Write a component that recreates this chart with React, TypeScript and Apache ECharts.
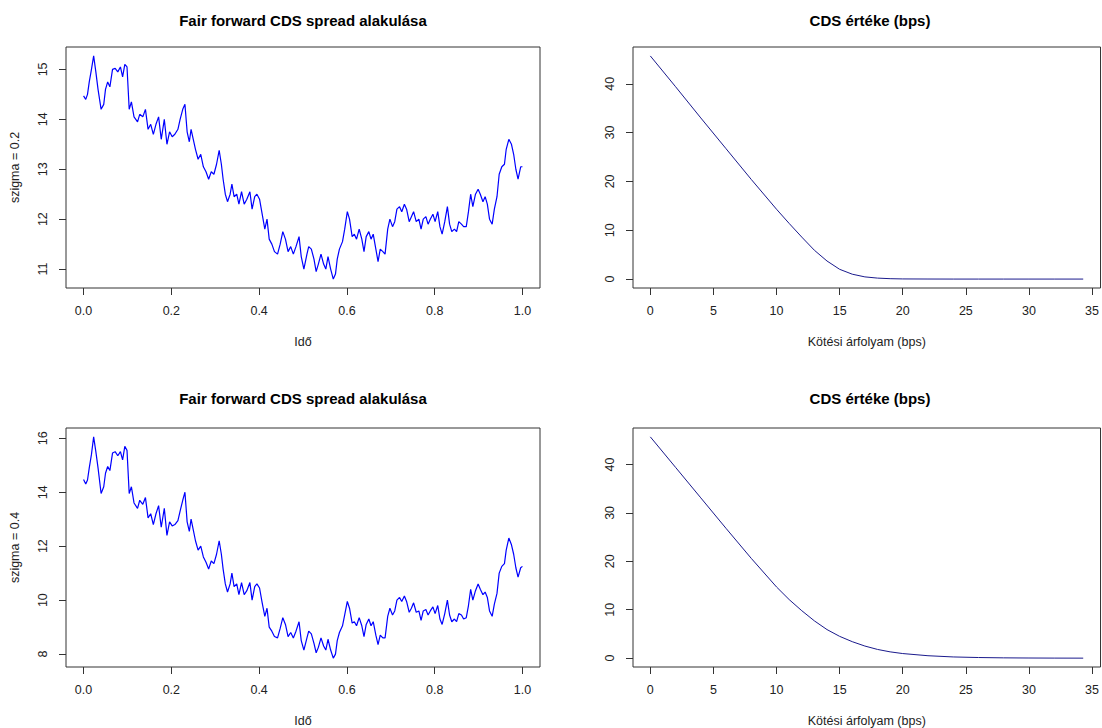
import React, { useEffect, useRef } from "react";
import * as echarts from "echarts";

// Time grid shared by both simulated paths
const TIME = [
  0, 0.005, 0.009, 0.013, 0.018, 0.023, 0.028, 0.033, 0.040, 0.046,
  0.050, 0.055, 0.060, 0.066, 0.072, 0.078, 0.084, 0.089, 0.094, 0.099,
  0.104, 0.109, 0.115, 0.123, 0.128, 0.135, 0.141, 0.147, 0.153, 0.159,
  0.165, 0.171, 0.177, 0.184, 0.190, 0.196, 0.202, 0.208, 0.215, 0.220,
  0.226, 0.231, 0.236, 0.241, 0.245, 0.250, 0.255, 0.261, 0.267, 0.273,
  0.279, 0.285, 0.291, 0.297, 0.303, 0.309, 0.314, 0.318, 0.323, 0.328,
  0.334, 0.338, 0.343, 0.349, 0.354, 0.360, 0.366, 0.372, 0.379, 0.384,
  0.390, 0.395, 0.401, 0.407, 0.413, 0.418, 0.423, 0.429, 0.435, 0.442,
  0.448, 0.454, 0.460, 0.466, 0.472, 0.478, 0.484, 0.491, 0.496, 0.502,
  0.509, 0.513, 0.519, 0.525, 0.530, 0.535, 0.541, 0.547, 0.552, 0.557,
  0.563, 0.569, 0.574, 0.578, 0.583, 0.590, 0.595, 0.601, 0.606, 0.612,
  0.617, 0.622, 0.628, 0.634, 0.639, 0.644, 0.650, 0.655, 0.660, 0.666,
  0.671, 0.676, 0.682, 0.687, 0.693, 0.698, 0.704, 0.709, 0.714, 0.720,
  0.725, 0.731, 0.736, 0.742, 0.747, 0.752, 0.758, 0.764, 0.769, 0.774,
  0.780, 0.785, 0.790, 0.796, 0.801, 0.807, 0.812, 0.817, 0.823, 0.829,
  0.834, 0.839, 0.845, 0.850, 0.855, 0.861, 0.866, 0.872, 0.877, 0.882,
  0.887, 0.893, 0.899, 0.904, 0.910, 0.915, 0.920, 0.925, 0.931, 0.936,
  0.942, 0.947, 0.953, 0.959, 0.963, 0.969, 0.975, 0.980, 0.985, 0.990,
  0.996, 1.0,
];

// Fair forward CDS spread, sigma = 0.2
const SPREAD_02 = [
  14.47, 14.40, 14.50, 14.75, 15.00, 15.27, 14.95, 14.60, 14.20, 14.30,
  14.60, 14.75, 14.65, 15.00, 15.02, 14.95, 15.05, 14.85, 15.10, 15.05,
  14.20, 14.35, 14.05, 13.95, 14.10, 14.05, 14.20, 13.80, 13.90, 13.70,
  13.90, 14.05, 13.60, 14.00, 13.50, 13.75, 13.65, 13.70, 13.80, 14.00,
  14.20, 14.30, 13.75, 13.55, 13.80, 13.60, 13.40, 13.20, 13.30, 13.05,
  12.95, 12.80, 12.95, 12.90, 13.10, 13.38, 13.10, 12.80, 12.50, 12.35,
  12.50, 12.70, 12.45, 12.50, 12.30, 12.55, 12.30, 12.40, 12.55, 12.20,
  12.45, 12.50, 12.40, 12.10, 11.80, 12.00, 11.60, 11.50, 11.35, 11.30,
  11.50, 11.75, 11.60, 11.35, 11.45, 11.30, 11.45, 11.65, 11.25, 11.00,
  11.30, 11.45, 11.40, 11.20, 10.95, 11.10, 11.30, 11.10, 11.00, 11.25,
  11.00, 10.80, 10.90, 11.20, 11.40, 11.55, 11.80, 12.15, 12.00, 11.65,
  11.70, 11.60, 11.80, 11.60, 11.35, 11.65, 11.75, 11.60, 11.70, 11.40,
  11.15, 11.40, 11.35, 11.30, 11.80, 12.00, 11.85, 11.95, 12.20, 12.25,
  12.15, 12.30, 12.20, 11.95, 12.05, 12.15, 11.95, 12.00, 11.80, 12.00,
  12.05, 11.90, 12.00, 12.10, 11.95, 12.15, 11.85, 11.70, 11.95, 12.25,
  11.90, 11.75, 11.80, 11.75, 11.95, 11.90, 11.85, 11.85, 12.15, 12.50,
  12.25, 12.50, 12.60, 12.50, 12.35, 12.45, 12.30, 12.00, 11.90, 12.20,
  12.45, 12.90, 13.05, 13.10, 13.40, 13.60, 13.50, 13.30, 13.00, 12.80,
  13.05, 13.05,
];

// Fair forward CDS spread, sigma = 0.4
const SPREAD_04 = [
  14.47, 14.30, 14.45, 14.90, 15.40, 16.05, 15.50, 14.90, 13.95, 14.20,
  14.70, 14.95, 14.80, 15.45, 15.50, 15.35, 15.50, 15.20, 15.70, 15.55,
  13.95, 14.20, 13.60, 13.40, 13.70, 13.55, 13.80, 13.05, 13.20, 12.80,
  13.20, 13.50, 12.70, 13.40, 12.40, 12.90, 12.75, 12.80, 12.95, 13.30,
  13.70, 14.00, 12.90, 12.55, 13.00, 12.60, 12.20, 11.85, 12.00, 11.60,
  11.40, 11.15, 11.45, 11.35, 11.70, 12.20, 11.70, 11.15, 10.60, 10.30,
  10.60, 11.00, 10.50, 10.60, 10.20, 10.65, 10.20, 10.35, 10.65, 10.00,
  10.50, 10.60, 10.45, 9.90, 9.40, 9.70, 9.00, 8.85, 8.65, 8.60,
  8.95, 9.35, 9.10, 8.65, 8.80, 8.60, 8.85, 9.20, 8.50, 8.15,
  8.60, 8.85, 8.75, 8.40, 8.05, 8.25, 8.60, 8.30, 8.15, 8.55,
  8.15, 7.85, 8.00, 8.50, 8.80, 9.05, 9.45, 9.95, 9.70, 9.15,
  9.20, 9.05, 9.35, 9.05, 8.65, 9.10, 9.30, 9.05, 9.20, 8.70,
  8.35, 8.70, 8.60, 8.60, 9.40, 9.70, 9.45, 9.60, 10.00, 10.10,
  9.95, 10.15, 9.95, 9.55, 9.70, 9.90, 9.55, 9.60, 9.25, 9.60,
  9.65, 9.45, 9.60, 9.75, 9.50, 9.80, 9.30, 9.10, 9.50, 10.00,
  9.45, 9.20, 9.30, 9.20, 9.50, 9.45, 9.30, 9.35, 9.80, 10.40,
  10.00, 10.35, 10.60, 10.40, 10.20, 10.30, 10.10, 9.60, 9.40, 9.85,
  10.25, 11.00, 11.25, 11.35, 11.85, 12.30, 12.05, 11.70, 11.20, 10.85,
  11.20, 11.25,
];

// Strike (bps) and CDS option value (bps)
const STRIKE = [0, 2, 4, 6, 8, 10, 11, 12, 13, 14, 15, 16, 17, 18, 19, 20, 22, 24, 26, 28, 30, 32, 34.3];
const CDS_VALUE_02 = [45.7, 39.4, 33.0, 26.7, 20.4, 14.3, 11.4, 8.6, 5.9, 3.7, 2.0, 1.0, 0.45, 0.2, 0.08, 0.03, 0.01, 0, 0, 0, 0, 0, 0];
const CDS_VALUE_04 = [45.7, 39.4, 33.1, 26.8, 20.6, 14.7, 12.1, 9.8, 7.7, 5.9, 4.5, 3.4, 2.5, 1.8, 1.3, 0.95, 0.5, 0.25, 0.13, 0.06, 0.03, 0.01, 0];

// Tick labels
const TIME_TICKS = [0, 0.2, 0.4, 0.6, 0.8, 1.0];
const STRIKE_TICKS = [0, 5, 10, 15, 20, 25, 30, 35];
const SPREAD_02_TICKS = [11, 12, 13, 14, 15];
const SPREAD_04_TICKS = [8, 10, 12, 14, 16];
const CDS_TICKS = [0, 10, 20, 30, 40];

const TITLE_LEFT = "Fair forward CDS spread alakulása";
const TITLE_RIGHT = "CDS értéke (bps)";
const XLAB_LEFT = "Idő";
const XLAB_RIGHT = "Kötési árfolyam (bps)";
const YLAB_TOP = "szigma = 0.2";
const YLAB_BOTTOM = "szigma = 0.4";

const FONT = "'Liberation Sans', Arial, sans-serif";

function rRange(arr: number[]): [number, number] {
  const mn = Math.min(...arr);
  const mx = Math.max(...arr);
  const p = (mx - mn) * 0.04;
  return [mn - p, mx + p];
}

export default function App() {
  const ref = useRef<HTMLDivElement>(null);

  useEffect(() => {
    if (!ref.current) return;
    const chart = echarts.init(ref.current, undefined, { renderer: "svg" });

    const grids = [
      { left: 66, top: 47, width: 474, height: 241 },
      { left: 633, top: 47, width: 474, height: 241 },
      { left: 66, top: 428, width: 474, height: 239 },
      { left: 633, top: 428, width: 474, height: 239 },
    ].map((g) => ({
      ...g,
      show: true,
      borderColor: "#333",
      borderWidth: 1,
      backgroundColor: "transparent",
      containLabel: false,
    }));

    const tickStyle = { show: true, length: 7, lineStyle: { color: "#333", width: 1 } };
    const labelStyle = { fontSize: 12.5, color: "#222", fontFamily: FONT };
    const nameStyle = { fontSize: 12.5, color: "#222", fontFamily: FONT };

    const mkX = (gi: number, range: [number, number], ticks: number[], name: string, dec: number) => ({
      type: "value",
      gridIndex: gi,
      position: "bottom",
      min: range[0],
      max: range[1],
      axisLine: { show: false, onZero: false },
      splitLine: { show: false },
      axisTick: { ...tickStyle, customValues: ticks },
      axisLabel: {
        ...labelStyle,
        margin: 16,
        customValues: ticks,
        formatter: (v: number) => v.toFixed(dec),
      },
      name,
      nameLocation: "middle",
      nameGap: 47,
      nameTextStyle: nameStyle,
    });

    const mkY = (gi: number, range: [number, number], ticks: number[], name: string) => ({
      type: "value",
      gridIndex: gi,
      position: "left",
      min: range[0],
      max: range[1],
      axisLine: { show: false, onZero: false },
      splitLine: { show: false },
      axisTick: { ...tickStyle, customValues: ticks },
      axisLabel: {
        ...labelStyle,
        margin: 17,
        rotate: 90,
        customValues: ticks,
        formatter: (v: number) => String(Math.round(v)),
      },
      name,
      nameLocation: "middle",
      nameGap: 45,
      nameRotate: 90,
      nameTextStyle: nameStyle,
    });

    const timeRange = rRange(TIME);
    const strikeRange = rRange(STRIKE);

    const titles = [
      { x: 303, y: 20, text: TITLE_LEFT },
      { x: 870, y: 20, text: TITLE_RIGHT },
      { x: 303, y: 398, text: TITLE_LEFT },
      { x: 870, y: 398, text: TITLE_RIGHT },
    ].map((t) => ({
      type: "text",
      x: t.x,
      y: t.y,
      silent: true,
      style: {
        text: t.text,
        fontFamily: FONT,
        fontWeight: "bold",
        fontSize: 15,
        fill: "#000",
        textAlign: "center",
        textVerticalAlign: "middle",
      },
    }));

    const lineSeries = (xi: number, xs: number[], ys: number[], color: string, width: number) => ({
      type: "line",
      xAxisIndex: xi,
      yAxisIndex: xi,
      data: xs.map((x, i) => [x, ys[i]]),
      showSymbol: false,
      symbol: "none",
      silent: true,
      lineStyle: { color, width },
    });

    chart.setOption({
      animation: false,
      backgroundColor: "#fff",
      grid: grids,
      xAxis: [
        mkX(0, timeRange, TIME_TICKS, XLAB_LEFT, 1),
        mkX(1, strikeRange, STRIKE_TICKS, XLAB_RIGHT, 0),
        mkX(2, timeRange, TIME_TICKS, XLAB_LEFT, 1),
        mkX(3, strikeRange, STRIKE_TICKS, XLAB_RIGHT, 0),
      ],
      yAxis: [
        mkY(0, rRange(SPREAD_02), SPREAD_02_TICKS, YLAB_TOP),
        mkY(1, rRange(CDS_VALUE_02), CDS_TICKS, ""),
        mkY(2, rRange(SPREAD_04), SPREAD_04_TICKS, YLAB_BOTTOM),
        mkY(3, rRange(CDS_VALUE_04), CDS_TICKS, ""),
      ],
      graphic: titles,
      series: [
        lineSeries(0, TIME, SPREAD_02, "#0000ff", 1.2),
        lineSeries(1, STRIKE, CDS_VALUE_02, "#1a1a8c", 1),
        lineSeries(2, TIME, SPREAD_04, "#0000ff", 1.2),
        lineSeries(3, STRIKE, CDS_VALUE_04, "#1a1a8c", 1),
      ],
    });

    return () => chart.dispose();
  }, []);

  return (
    <div
      ref={ref}
      style={{ position: "fixed", left: 0, top: 0, width: 1102, height: 728, overflow: "hidden", background: "#fff" }}
    />
  );
}
